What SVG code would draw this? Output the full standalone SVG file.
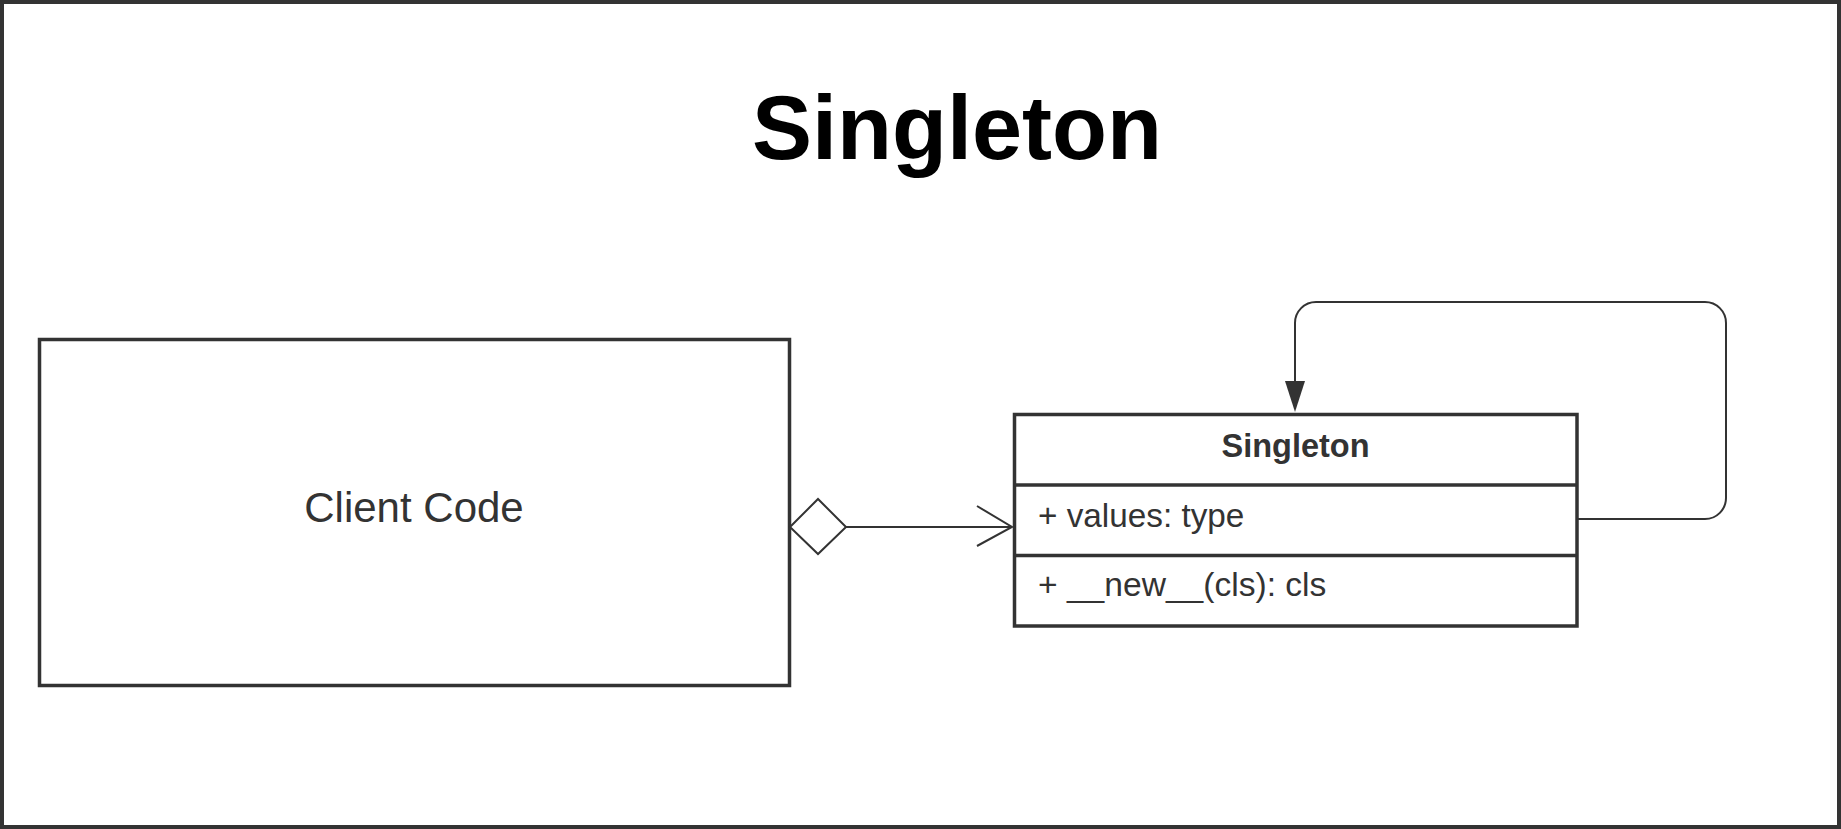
<svg xmlns="http://www.w3.org/2000/svg" width="1841" height="829" viewBox="0 0 1841 829">
  <style>
    .box { fill: #ffffff; stroke: #333333; stroke-width: 3.5; }
    .div { stroke: #333333; stroke-width: 3.5; }
    .conn { fill: none; stroke: #333333; stroke-width: 2; }
    .txt { font-family: "Liberation Sans", Arial, sans-serif; fill: #333333; }
  </style>
  <rect x="2" y="2" width="1837" height="825" fill="#ffffff" stroke="#333333" stroke-width="4"/>
  <g id="title">
    <text x="957" y="159" text-anchor="middle" font-family="'Liberation Sans', Arial, sans-serif" font-weight="bold" font-size="90" fill="#000000">Singleton</text>
  </g>
  <g id="client-code">
    <rect class="box" x="39.5" y="339.5" width="750" height="346"/>
    <text class="txt" x="414" y="522" text-anchor="middle" font-size="42">Client Code</text>
  </g>
  <g id="singleton-class">
    <rect class="box" x="1014.5" y="414.5" width="562.5" height="211.5"/>
    <line class="div" x1="1014.5" y1="485" x2="1577" y2="485"/>
    <line class="div" x1="1014.5" y1="555.5" x2="1577" y2="555.5"/>
    <text class="txt" x="1295.5" y="457" text-anchor="middle" font-size="32.5" font-weight="bold">Singleton</text>
    <text class="txt" x="1038" y="527" font-size="33.3">+ values: type</text>
    <text class="txt" x="1038" y="596" font-size="33.6">+ __new__(cls): cls</text>
  </g>
  <g id="connectors">
    <polygon points="790,527 818,499 846,527 818,554" fill="#ffffff" stroke="#333333" stroke-width="2"/>
    <line class="conn" x1="846" y1="527" x2="1012" y2="527"/>
    <polyline class="conn" points="977,506 1012,527 977,546"/>
    <path class="conn" d="M1578,519 H1705 A21,21 0 0 0 1726,498 V323 A21,21 0 0 0 1705,302 H1316 A21,21 0 0 0 1295,323 V383"/>
    <polygon points="1285,381 1305,381 1295,412" fill="#333333"/>
  </g>
</svg>
